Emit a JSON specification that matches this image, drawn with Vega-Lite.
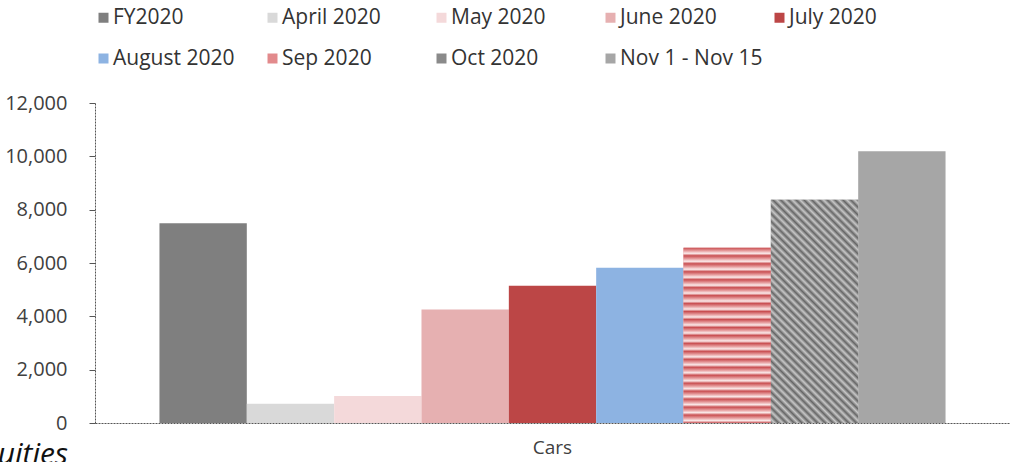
{
  "$schema": "https://vega.github.io/schema/vega-lite/v6.json",
  "autosize": "none",
  "width": 915,
  "height": 320,
  "padding": {"left": 95, "top": 103, "right": 2, "bottom": 39},
  "background": "white",
  "config": {"view": {"stroke": null}, "font": "Open Sans"},
  "title": {"text": "uities", "orient": "bottom", "anchor": "start", "frame": "bounds", "font": "Open Sans", "fontStyle": "italic", "fontWeight": "normal", "fontSize": 30, "color": "#111111", "offset": 0, "baseline": "alphabetic", "dx": -7, "dy": 7},
  "data": {"values": [
    {"category": "Cars", "series": "FY2020", "value": 7490},
    {"category": "Cars", "series": "April 2020", "value": 720},
    {"category": "Cars", "series": "May 2020", "value": 1010},
    {"category": "Cars", "series": "June 2020", "value": 4260},
    {"category": "Cars", "series": "July 2020", "value": 5150},
    {"category": "Cars", "series": "August 2020", "value": 5820},
    {"category": "Cars", "series": "Sep 2020", "value": 6570},
    {"category": "Cars", "series": "Oct 2020", "value": 8370},
    {"category": "Cars", "series": "Nov 1 - Nov 15", "value": 10190}
  ]},
  "encoding": {
    "x": {"field": "category", "type": "nominal", "scale": {"paddingInner": 0, "paddingOuter": 0.082},
      "axis": {"title": null, "labelAngle": 0, "labelFont": "Open Sans", "labelFontSize": 19, "labelColor": "#404040", "labelPadding": 15, "ticks": false, "domainColor": "#555555", "domainDash": [2, 1], "domainWidth": 1}},
    "xOffset": {"field": "series", "type": "nominal", "scale": {"paddingInner": 0, "paddingOuter": 0, "domain": ["FY2020", "April 2020", "May 2020", "June 2020", "July 2020", "August 2020", "Sep 2020", "Oct 2020", "Nov 1 - Nov 15"]}},
    "y": {"field": "value", "type": "quantitative", "scale": {"domain": [0, 12000], "nice": false},
      "axis": {"title": null, "values": [0, 2000, 4000, 6000, 8000, 10000, 12000], "format": ",.0f", "grid": false, "labelFont": "Open Sans", "labelFontSize": 20, "labelColor": "#404040", "labelPadding": 22, "tickSize": 6, "tickColor": "#555555", "domainColor": "#555555", "domainDash": [2, 1], "domainWidth": 1}}
  },
  "layer": [
    {
      "mark": {"type": "bar", "strokeWidth": 0},
      "encoding": {
        "color": {"field": "series", "type": "nominal",
          "scale": {"domain": ["FY2020", "April 2020", "May 2020", "June 2020", "July 2020", "August 2020", "Sep 2020", "Oct 2020", "Nov 1 - Nov 15"],
                    "range": ["#7f7f7f", "#d9d9d9", "#f4d9da", "#e6b0b1", "#bc4646", "#8db3e2", "#e28a8c", "#8a8a8a", "#a6a6a6"]},
          "legend": {"title": null, "orient": "none", "legendX": -2, "legendY": -96, "direction": "horizontal", "columns": 5, "gridAlign": "all", "columnPadding": 6, "rowPadding": 19, "symbolType": "square", "symbolSize": 100, "symbolStrokeWidth": 0, "labelOffset": -1, "labelFont": "Open Sans", "labelFontSize": 21, "labelColor": "#333333", "labelLimit": 300,
            "encoding": {"symbols": {"fill": {
              "condition": [
                {"test": "datum.value === 'Sep 2020'", "value": {"gradient": "linear", "x1": 0, "y1": 0, "x2": 0, "y2": 1, "stops": [{"offset": 0, "color": "#fbeaea"}, {"offset": 0.17, "color": "#c94f52"}, {"offset": 0.33, "color": "#fbeaea"}, {"offset": 0.5, "color": "#c94f52"}, {"offset": 0.67, "color": "#fbeaea"}, {"offset": 0.83, "color": "#c94f52"}, {"offset": 1, "color": "#fbeaea"}]}},
                {"test": "datum.value === 'Oct 2020'", "value": {"gradient": "linear", "x1": 0, "y1": 1, "x2": 1, "y2": 0, "stops": [{"offset": 0, "color": "#666666"}, {"offset": 0.25, "color": "#cccccc"}, {"offset": 0.5, "color": "#666666"}, {"offset": 0.75, "color": "#cccccc"}, {"offset": 1, "color": "#666666"}]}}
              ],
              "value": {"expr": "scale('color', datum.value)"}
            }}}
          }
        }
      }
    },
    {
      "transform": [{"filter": "datum.series === 'Sep 2020'"}],
      "mark": {"type": "bar", "strokeWidth": 0, "fill": {"gradient": "linear", "x1": 0, "y1": 0, "x2": 0, "y2": 1, "stops": [
        {"offset": 0.0000, "color": "#c94f52"}, {"offset": 0.0182, "color": "#e8a2a3"}, {"offset": 0.0318, "color": "#fbeaea"},
        {"offset": 0.0455, "color": "#c94f52"}, {"offset": 0.0636, "color": "#e8a2a3"}, {"offset": 0.0773, "color": "#fbeaea"},
        {"offset": 0.0909, "color": "#c94f52"}, {"offset": 0.1091, "color": "#e8a2a3"}, {"offset": 0.1227, "color": "#fbeaea"},
        {"offset": 0.1364, "color": "#c94f52"}, {"offset": 0.1545, "color": "#e8a2a3"}, {"offset": 0.1682, "color": "#fbeaea"},
        {"offset": 0.1818, "color": "#c94f52"}, {"offset": 0.2000, "color": "#e8a2a3"}, {"offset": 0.2136, "color": "#fbeaea"},
        {"offset": 0.2273, "color": "#c94f52"}, {"offset": 0.2455, "color": "#e8a2a3"}, {"offset": 0.2591, "color": "#fbeaea"},
        {"offset": 0.2727, "color": "#c94f52"}, {"offset": 0.2909, "color": "#e8a2a3"}, {"offset": 0.3045, "color": "#fbeaea"},
        {"offset": 0.3182, "color": "#c94f52"}, {"offset": 0.3364, "color": "#e8a2a3"}, {"offset": 0.3500, "color": "#fbeaea"},
        {"offset": 0.3636, "color": "#c94f52"}, {"offset": 0.3818, "color": "#e8a2a3"}, {"offset": 0.3955, "color": "#fbeaea"},
        {"offset": 0.4091, "color": "#c94f52"}, {"offset": 0.4273, "color": "#e8a2a3"}, {"offset": 0.4409, "color": "#fbeaea"},
        {"offset": 0.4545, "color": "#c94f52"}, {"offset": 0.4727, "color": "#e8a2a3"}, {"offset": 0.4864, "color": "#fbeaea"},
        {"offset": 0.5000, "color": "#c94f52"}, {"offset": 0.5182, "color": "#e8a2a3"}, {"offset": 0.5318, "color": "#fbeaea"},
        {"offset": 0.5455, "color": "#c94f52"}, {"offset": 0.5636, "color": "#e8a2a3"}, {"offset": 0.5773, "color": "#fbeaea"},
        {"offset": 0.5909, "color": "#c94f52"}, {"offset": 0.6091, "color": "#e8a2a3"}, {"offset": 0.6227, "color": "#fbeaea"},
        {"offset": 0.6364, "color": "#c94f52"}, {"offset": 0.6545, "color": "#e8a2a3"}, {"offset": 0.6682, "color": "#fbeaea"},
        {"offset": 0.6818, "color": "#c94f52"}, {"offset": 0.7000, "color": "#e8a2a3"}, {"offset": 0.7136, "color": "#fbeaea"},
        {"offset": 0.7273, "color": "#c94f52"}, {"offset": 0.7455, "color": "#e8a2a3"}, {"offset": 0.7591, "color": "#fbeaea"},
        {"offset": 0.7727, "color": "#c94f52"}, {"offset": 0.7909, "color": "#e8a2a3"}, {"offset": 0.8045, "color": "#fbeaea"},
        {"offset": 0.8182, "color": "#c94f52"}, {"offset": 0.8364, "color": "#e8a2a3"}, {"offset": 0.8500, "color": "#fbeaea"},
        {"offset": 0.8636, "color": "#c94f52"}, {"offset": 0.8818, "color": "#e8a2a3"}, {"offset": 0.8955, "color": "#fbeaea"},
        {"offset": 0.9091, "color": "#c94f52"}, {"offset": 0.9273, "color": "#e8a2a3"}, {"offset": 0.9409, "color": "#fbeaea"},
        {"offset": 0.9545, "color": "#c94f52"}, {"offset": 0.9727, "color": "#e8a2a3"}, {"offset": 0.9864, "color": "#fbeaea"},
        {"offset": 1.0000, "color": "#c94f52"}
      ]}}
    },
    {
      "transform": [{"filter": "datum.series === 'Oct 2020'"}],
      "mark": {"type": "bar", "strokeWidth": 0, "fill": {"gradient": "linear", "x1": 0, "y1": 1, "x2": 0.471, "y2": -0.207, "stops": [
        {"offset": 0, "color": "#666666"}, {"offset": 0.0125, "color": "#c8c8c8"}, {"offset": 0.025, "color": "#666666"}, {"offset": 0.0375, "color": "#c8c8c8"},
        {"offset": 0.05, "color": "#666666"}, {"offset": 0.0625, "color": "#c8c8c8"}, {"offset": 0.075, "color": "#666666"}, {"offset": 0.0875, "color": "#c8c8c8"},
        {"offset": 0.1, "color": "#666666"}, {"offset": 0.1125, "color": "#c8c8c8"}, {"offset": 0.125, "color": "#666666"}, {"offset": 0.1375, "color": "#c8c8c8"},
        {"offset": 0.15, "color": "#666666"}, {"offset": 0.1625, "color": "#c8c8c8"}, {"offset": 0.175, "color": "#666666"}, {"offset": 0.1875, "color": "#c8c8c8"},
        {"offset": 0.2, "color": "#666666"}, {"offset": 0.2125, "color": "#c8c8c8"}, {"offset": 0.225, "color": "#666666"}, {"offset": 0.2375, "color": "#c8c8c8"},
        {"offset": 0.25, "color": "#666666"}, {"offset": 0.2625, "color": "#c8c8c8"}, {"offset": 0.275, "color": "#666666"}, {"offset": 0.2875, "color": "#c8c8c8"},
        {"offset": 0.3, "color": "#666666"}, {"offset": 0.3125, "color": "#c8c8c8"}, {"offset": 0.325, "color": "#666666"}, {"offset": 0.3375, "color": "#c8c8c8"},
        {"offset": 0.35, "color": "#666666"}, {"offset": 0.3625, "color": "#c8c8c8"}, {"offset": 0.375, "color": "#666666"}, {"offset": 0.3875, "color": "#c8c8c8"},
        {"offset": 0.4, "color": "#666666"}, {"offset": 0.4125, "color": "#c8c8c8"}, {"offset": 0.425, "color": "#666666"}, {"offset": 0.4375, "color": "#c8c8c8"},
        {"offset": 0.45, "color": "#666666"}, {"offset": 0.4625, "color": "#c8c8c8"}, {"offset": 0.475, "color": "#666666"}, {"offset": 0.4875, "color": "#c8c8c8"},
        {"offset": 0.5, "color": "#666666"}, {"offset": 0.5125, "color": "#c8c8c8"}, {"offset": 0.525, "color": "#666666"}, {"offset": 0.5375, "color": "#c8c8c8"},
        {"offset": 0.55, "color": "#666666"}, {"offset": 0.5625, "color": "#c8c8c8"}, {"offset": 0.575, "color": "#666666"}, {"offset": 0.5875, "color": "#c8c8c8"},
        {"offset": 0.6, "color": "#666666"}, {"offset": 0.6125, "color": "#c8c8c8"}, {"offset": 0.625, "color": "#666666"}, {"offset": 0.6375, "color": "#c8c8c8"},
        {"offset": 0.65, "color": "#666666"}, {"offset": 0.6625, "color": "#c8c8c8"}, {"offset": 0.675, "color": "#666666"}, {"offset": 0.6875, "color": "#c8c8c8"},
        {"offset": 0.7, "color": "#666666"}, {"offset": 0.7125, "color": "#c8c8c8"}, {"offset": 0.725, "color": "#666666"}, {"offset": 0.7375, "color": "#c8c8c8"},
        {"offset": 0.75, "color": "#666666"}, {"offset": 0.7625, "color": "#c8c8c8"}, {"offset": 0.775, "color": "#666666"}, {"offset": 0.7875, "color": "#c8c8c8"},
        {"offset": 0.8, "color": "#666666"}, {"offset": 0.8125, "color": "#c8c8c8"}, {"offset": 0.825, "color": "#666666"}, {"offset": 0.8375, "color": "#c8c8c8"},
        {"offset": 0.85, "color": "#666666"}, {"offset": 0.8625, "color": "#c8c8c8"}, {"offset": 0.875, "color": "#666666"}, {"offset": 0.8875, "color": "#c8c8c8"},
        {"offset": 0.9, "color": "#666666"}, {"offset": 0.9125, "color": "#c8c8c8"}, {"offset": 0.925, "color": "#666666"}, {"offset": 0.9375, "color": "#c8c8c8"},
        {"offset": 0.95, "color": "#666666"}, {"offset": 0.9625, "color": "#c8c8c8"}, {"offset": 0.975, "color": "#666666"}, {"offset": 0.9875, "color": "#c8c8c8"},
        {"offset": 1, "color": "#666666"}
      ]}}
    }
  ]
}
